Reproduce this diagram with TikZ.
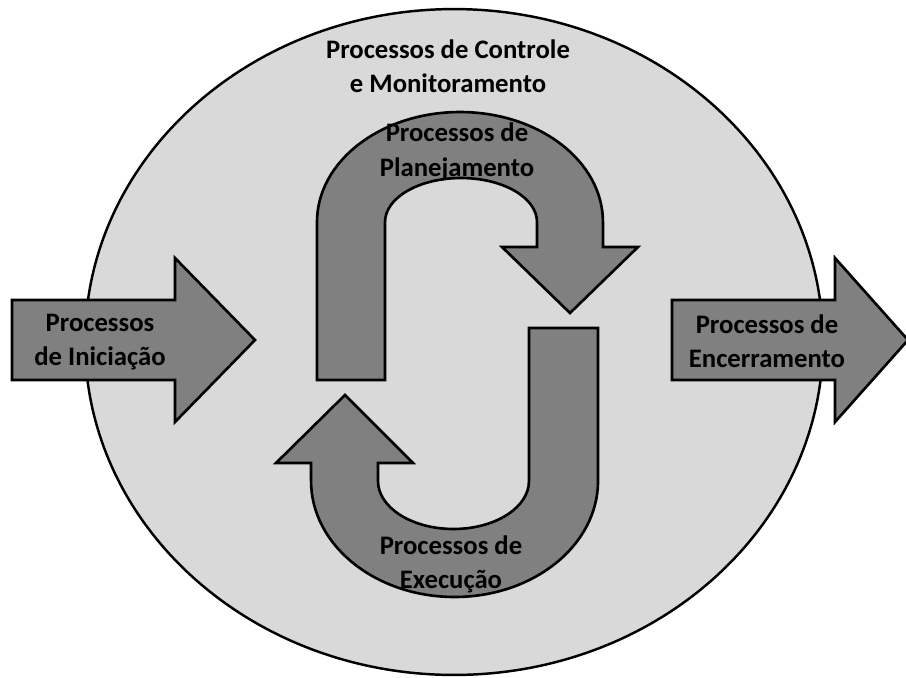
\documentclass[tikz,border=0pt]{standalone}
\usepackage{fontspec}
\setmainfont{Carlito}
\definecolor{ellgray}{HTML}{D9D9D9}
\definecolor{arrowgray}{HTML}{808080}
\begin{document}
\begin{tikzpicture}[x=0.02cm,y=-0.02cm,
  arrowshape/.style={draw=black,line width=1.5pt,fill=arrowgray,line join=miter},
  lbl/.style={font=\bfseries\fontsize{15.2}{19.5}\selectfont,align=center,inner sep=0pt}]
\useasboundingbox (0,0) rectangle (906,677);
% outer ellipse: control and monitoring
\draw[line width=1.4pt,fill=ellgray] (454,342) ellipse [x radius=7.38cm, y radius=6.66cm];
% initiation arrow
\draw[arrowshape] (12,300) -- (175,300) -- (175,258) -- (255,340) -- (175,422) -- (175,380) -- (12,380) -- cycle;
% closing arrow
\draw[arrowshape] (672,300) -- (835,300) -- (835,258) -- (908,340) -- (835,422) -- (835,380) -- (672,380) -- cycle;
% planning U-turn arrow
\draw[arrowshape] (317,380) -- (317,222)
  arc[start angle=180,end angle=0,x radius=2.86cm,y radius=2.2cm]
  -- (603,247) -- (638,247) -- (570,313) -- (502,247) -- (537,247) -- (537,222)
  arc[start angle=0,end angle=180,x radius=1.52cm,y radius=0.88cm]
  -- (385,380) -- cycle;
% execution U-turn arrow
\draw[arrowshape] (598,328) -- (598,481)
  arc[start angle=0,end angle=-180,x radius=2.87cm,y radius=2.32cm]
  -- (311,463) -- (276,463) -- (345,395) -- (413,463) -- (378,463) -- (378,481)
  arc[start angle=180,end angle=360,x radius=1.51cm,y radius=0.96cm]
  -- (529,328) -- cycle;
% labels
\node[lbl] (ctrl) at (448,66) {Processos de Controle\\e Monitoramento};
\node[lbl] (plan) at (457,152) {Processos de\\Planejamento};
\node[lbl] (exec) at (451,564) {Processos de\\Execução};
\node[lbl] (init) at (100,342) {Processos\\de Iniciação};
\node[lbl] (ence) at (767,341) {Processos de\\Encerramento};
\end{tikzpicture}
\end{document}
